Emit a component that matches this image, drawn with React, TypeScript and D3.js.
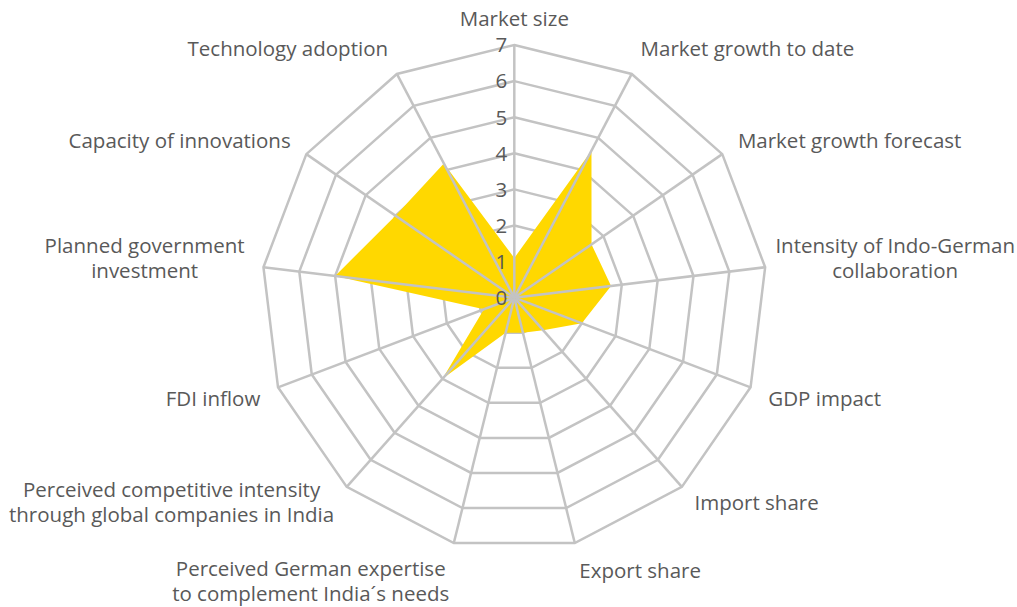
import { useEffect, useRef } from "react";
import * as d3 from "d3";

const categories = [
  "Market size",
  "Market growth to date",
  "Market growth forecast",
  "Intensity of Indo-German\ncollaboration",
  "GDP impact",
  "Import share",
  "Export share",
  "Perceived German expertise\nto complement India´s needs",
  "Perceived competitive intensity\nthrough global companies in India",
  "FDI inflow",
  "Planned government\ninvestment",
  "Capacity of innovations",
  "Technology adoption",
];

const values = [1.1, 4.6, 2.6, 2.7, 2.0, 1.2, 1.0, 1.0, 3.0, 0.9, 5.0, 4.0, 4.2];

const ticks = [0, 1, 2, 3, 4, 5, 6, 7];

export default function App() {
  const ref = useRef<SVGSVGElement>(null);

  useEffect(() => {
    const width = 1017;
    const height = 607;
    const cx = 514.3;
    const cy = 297.7;
    const R = 252.7;
    const n = categories.length;
    const textColor = "#595959";
    const gridColor = "#c3c3c3";
    const font = "'Open Sans', sans-serif";

    const svg = d3.select(ref.current);
    svg.selectAll("*").remove();
    svg.attr("width", width).attr("height", height);

    const g = svg.append("g").attr("transform", `translate(${cx},${cy})`);

    const r = d3.scaleLinear().domain([0, 7]).range([0, R]);
    const angle = (i: number) => (i * 2 * Math.PI) / n;

    // rings
    const ring = d3.lineRadial<number>()
      .angle((_, i) => angle(i))
      .radius(d => r(d))
      .curve(d3.curveLinearClosed);

    ticks.slice(1).forEach(t => {
      g.append("path")
        .attr("d", ring(categories.map(() => t)))
        .attr("fill", "none")
        .attr("stroke", gridColor)
        .attr("stroke-width", 2.5);
    });

    // data area
    g.append("path")
      .attr("d", ring(values))
      .attr("fill", "#FFD800")
      .attr("stroke", "none");

    // spokes
    categories.forEach((_, i) => {
      const a = angle(i);
      g.append("line")
        .attr("x1", 0)
        .attr("y1", 0)
        .attr("x2", Math.sin(a) * R)
        .attr("y2", -Math.cos(a) * R)
        .attr("stroke", gridColor)
        .attr("stroke-width", 2.5);
    });

    // tick labels
    g.selectAll(".tick")
      .data(ticks)
      .enter()
      .append("text")
      .attr("class", "tick")
      .attr("x", -7)
      .attr("y", d => -r(d))
      .attr("dy", "0.36em")
      .attr("text-anchor", "end")
      .attr("fill", textColor)
      .attr("font-family", font)
      .attr("font-size", 20.5)
      .text(d => d);

    // category labels (Excel-like placement around the outer ring)
    const lineH = 25;
    categories.forEach((label, i) => {
      const a = angle(i);
      const s = Math.sin(a);
      const c = Math.cos(a);
      const px = s * (R + 19);
      const py = -c * (R + 12);
      const lines = label.split("\n");
      const h = lines.length * lineH;

      const text = g.append("text")
        .attr("fill", textColor)
        .attr("font-family", font)
        .attr("font-size", 20.5)
        .attr("text-anchor", "middle");
      const spans = lines.map(l => text.append("tspan").text(l));
      const w = d3.max(spans, sp => (sp.node() as SVGTSpanElement).getComputedTextLength()) || 0;

      let centerX = s * (R + 12);
      if (s > 0.05) centerX = px + w / 2;
      else if (s < -0.05) centerX = px - w / 2;
      // keep inside the picture
      centerX = Math.min(centerX, width - cx - 2 - w / 2);
      centerX = Math.max(centerX, -cx + 2 + w / 2);

      let centerY;
      if (c > 0.8) centerY = py - h / 2 - 2;
      else if (c < -0.8) centerY = py + h / 2 + 4;
      else centerY = py - 7 * Math.sign(c);
      centerY = Math.min(centerY, height - cy - 1 - h / 2);
      const top = centerY - h / 2;

      spans.forEach((sp, k) => {
        sp.attr("x", centerX)
          .attr("y", top + lineH * (k + 0.5))
          .attr("dy", "0.35em");
      });
    });
  }, []);

  return (
    <svg
      ref={ref}
      width={1017}
      height={607}
      style={{ position: "absolute", left: 0, top: 0, background: "#fff" }}
    />
  );
}
